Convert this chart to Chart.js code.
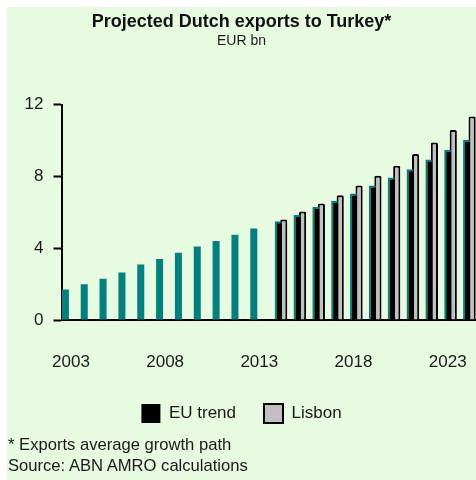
<!DOCTYPE html>
<html>
<head>
<meta charset="utf-8">
<script src="https://cdn.jsdelivr.net/npm/chart.js@4/dist/chart.umd.min.js"></script>
<style>
  html, body { margin: 0; padding: 0; background: #ffffff; }
  #panel {
    position: absolute; left: 7px; top: 7px; width: 469px; height: 473px;
    background: #e7fbe0; overflow: hidden;
  }
  #chart { position: absolute; left: 0; top: 0; }
  .note {
    position: absolute; left: 1px; color: #1a1a1a;
    font-family: 'Liberation Sans', Arial, sans-serif;
    font-size: 16.6px; white-space: nowrap;
  }
</style>
</head>
<body>
<div id="panel">
  <canvas id="chart" width="469" height="473"></canvas>
  <div class="note" style="top:428px">* Exports average growth path</div>
  <div class="note" style="top:449px">Source: ABN AMRO calculations</div>
</div>
<script>
// Years on the category axis
const years = ['2003','2004','2005','2006','2007','2008','2009','2010','2011','2012','2013',
               '2014','2015','2016','2017','2018','2019','2020','2021','2022','2023','2024'];
// Realised exports, EUR bn
const historical = [1.7, 2.0, 2.3, 2.65, 3.1, 3.4, 3.75, 4.1, 4.4, 4.75, 5.1,
                    null, null, null, null, null, null, null, null, null, null, null];
// Projection: EU trend growth
const euTrend = [null, null, null, null, null, null, null, null, null, null, null,
                 5.5, 5.85, 6.3, 6.65, 7.05, 7.5, 7.95, 8.4, 8.95, 9.5, 10.05];
// Projection: Lisbon scenario
const lisbon = [null, null, null, null, null, null, null, null, null, null, null,
                5.6, 6.05, 6.5, 6.95, 7.5, 8.05, 8.6, 9.25, 9.9, 10.6, 11.35];
// Axis tick labels
const xTickLabels = ['2003','2008','2013','2018','2023'];
const yTickValues = [0, 4, 8, 12];

const FONT = "'Liberation Sans', Arial, sans-serif";
const TEAL = '#008080';

new Chart(document.getElementById('chart'), {
  type: 'bar',
  data: {
    labels: years,
    datasets: [
      {
        label: 'History',
        data: historical,
        backgroundColor: TEAL,
        borderWidth: 0,
        categoryPercentage: 0.88,
        barPercentage: 1.27
      },
      {
        label: 'EU trend',
        data: euTrend,
        backgroundColor: '#000000',
        borderColor: TEAL,
        borderWidth: { top: 2, left: 2, right: 0, bottom: 0 },
        borderSkipped: false,
        categoryPercentage: 0.88,
        barPercentage: 1.27
      },
      {
        label: 'Lisbon',
        data: lisbon,
        backgroundColor: '#c0c0c0',
        borderColor: '#000000',
        borderWidth: 2,
        borderRadius: 1.5,
        borderSkipped: 'bottom',
        categoryPercentage: 0.88,
        barPercentage: 1.3
      }
    ]
  },
  options: {
    responsive: false,
    animation: false,
    devicePixelRatio: 1,
    layout: { padding: { left: 0, right: 0, top: 0, bottom: 47 } },
    plugins: {
      title: {
        display: true,
        text: 'Projected Dutch exports to Turkey*',
        color: '#111111',
        font: { family: FONT, size: 18, weight: 'bold', lineHeight: 1.0 },
        padding: { top: 6, bottom: 0 }
      },
      subtitle: {
        display: true,
        text: 'EUR bn',
        color: '#1a1a1a',
        font: { family: FONT, size: 14, lineHeight: 1.0 },
        padding: { top: 3, bottom: 56.8 }
      },
      legend: {
        position: 'bottom',
        labels: {
          filter: (item) => item.datasetIndex !== 0,
          boxWidth: 19,
          boxHeight: 19,
          padding: 28,
          color: '#1a1a1a',
          font: { family: FONT, size: 17 },
          generateLabels: (chart) => {
            const items = Chart.defaults.plugins.legend.labels.generateLabels(chart);
            items.forEach((it) => {
              if (it.datasetIndex === 1) { it.fillStyle = '#000000'; it.strokeStyle = '#000000'; it.lineWidth = 0; }
              if (it.datasetIndex === 2) { it.fillStyle = '#c0c0c0'; it.strokeStyle = '#000000'; it.lineWidth = 2; }
            });
            return items;
          }
        }
      },
      tooltip: { enabled: false }
    },
    scales: {
      x: {
        afterFit: (scale) => { scale.height = 56; },
        grid: { display: false, drawTicks: true, tickLength: 32 },
        border: { display: true, color: '#000000', width: 2 },
        ticks: {
          autoSkip: false,
          maxRotation: 0,
          padding: 0,
          color: '#1a1a1a',
          font: { family: FONT, size: 17 },
          callback: function (value) {
            const lbl = this.getLabelForValue(value);
            return xTickLabels.includes(lbl) ? lbl : '';
          }
        }
      },
      y: {
        min: 0,
        max: 12,
        afterBuildTicks: (scale) => { scale.ticks = yTickValues.map((v) => ({ value: v })); },
        afterFit: (scale) => { scale.width = 54.5; },
        grid: { display: true, drawOnChartArea: false, drawTicks: true, tickLength: 8, tickColor: '#000000', tickWidth: 2 },
        border: { display: true, color: '#000000', width: 2 },
        ticks: {
          padding: 10,
          color: '#1a1a1a',
          font: { family: FONT, size: 17 }
        }
      }
    }
  }
});
</script>
</body>
</html>
